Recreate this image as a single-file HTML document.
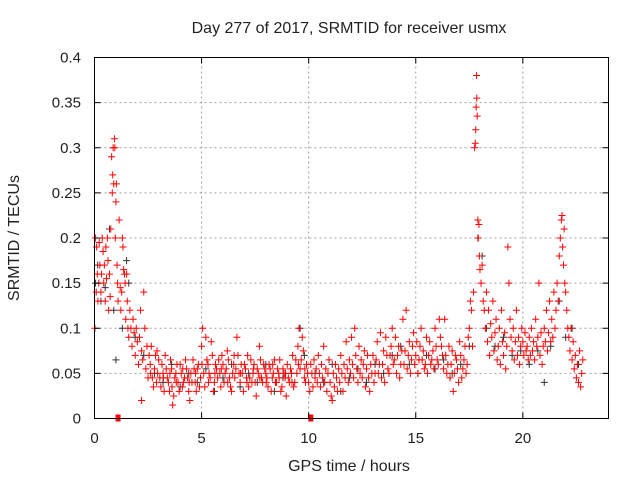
<!DOCTYPE html>
<html><head><meta charset="utf-8"><style>
body{margin:0;background:#fff}
svg{display:block;font-family:"Liberation Sans",sans-serif}
</style></head><body>
<svg id="chart" width="640" height="480" viewBox="0 0 640 480">
<rect width="640" height="480" fill="#fff"/>
<g id="grid"></g>
<g id="black"></g>
<g id="red"></g>
<rect x="94.5" y="57.5" width="514" height="361" fill="none" stroke="#000" stroke-width="1"/>
<g id="axes" font-size="15" fill="#222"></g>
<text x="349" y="33" font-size="16" text-anchor="middle" fill="#222">Day 277 of 2017, SRMTID for receiver usmx</text>
<text x="349" y="471" font-size="16" text-anchor="middle" fill="#222">GPS time / hours</text>
<text transform="translate(19,238) rotate(-90)" font-size="16" text-anchor="middle" fill="#222">SRMTID / TECUs</text>
</svg>
<script>
const xTicks=[0,5,10,15,20];
const yTicks=[0,0.05,0.1,0.15,0.2,0.25,0.3,0.35,0.4];
const yTickLabels=["0","0.05","0.1","0.15","0.2","0.25","0.3","0.35","0.4"];
const zeroHours=[1.1,10.1];
const blackPoints=[[0.05,.15],[0.15,.17],[0.3,.13],[0.5,.145],[0.7,.21],[0.9,.12],[1.0,.065],[1.3,.1],[1.5,.175],[1.6,.15],[1.9,.09],[2.3,.07],[2.8,.05],[3.2,.04],[3.6,.06],[4.0,.035],[4.4,.05],[4.8,.04],[5.2,.055],[5.6,.03],[6.0,.045],[6.4,.06],[6.8,.035],[7.2,.05],[7.6,.04],[8.0,.06],[8.4,.03],[8.8,.045],[9.2,.05],[9.6,.1],[9.8,.07],[10.3,.05],[10.7,.04],[11.1,.06],[11.5,.03],[11.9,.045],[12.3,.055],[12.7,.04],[13.1,.06],[13.5,.05],[13.9,.07],[14.3,.08],[14.7,.06],[15.1,.05],[15.5,.07],[15.9,.055],[16.3,.065],[16.7,.05],[17.1,.06],[17.5,.08],[17.9,.2],[18.1,.18],[18.3,.1],[18.7,.08],[19.1,.09],[19.5,.07],[19.9,.075],[20.3,.06],[20.7,.075],[21.0,.04],[21.3,.08],[21.7,.13],[22.0,.09],[22.3,.1],[22.6,.06]];
const redPoints=[[0.02,.1],[0.05,.2],[0.08,.14],[0.1,.19],[0.13,.16],[0.16,.13],[0.2,.15],[0.22,.195],[0.25,.17],[0.3,.14],[0.33,.16],[0.36,.2],[0.4,.185],[0.43,.15],[0.46,.17],[0.5,.13],[0.53,.19],[0.56,.155],[0.6,.2],[0.63,.175],[0.66,.12],[0.7,.16],[0.73,.135],[0.76,.21],[0.8,.29],[0.83,.25],[0.85,.27],[0.87,.3],[0.9,.26],[0.93,.31],[0.95,.3],[0.97,.2],[1.0,.24],[1.02,.26],[1.05,.17],[1.08,.15],[1.1,.13],[1.15,.22],[1.2,.145],[1.23,.12],[1.27,.14],[1.3,.2],[1.33,.19],[1.36,.165],[1.4,.16],[1.43,.15],[1.46,.11],[1.5,.16],[1.53,.13],[1.56,.1],
[1.6,.09],[1.65,.12],[1.7,.1],[1.75,.08],[1.8,.11],[1.85,.095],[1.9,.07],[1.95,.1],[2.0,.085],[2.05,.06],[2.1,.09],[2.15,.12],[2.2,.075],[2.25,.065],[2.3,.14],[2.35,.1],[2.4,.055],[2.45,.08],[2.5,.045],[2.55,.07],[2.2,.02],
[2.6,.06],[2.7,.045],[2.8,.055],[2.9,.04],[3.0,.065],[3.1,.035],[3.2,.05],[3.3,.07],[3.4,.045],[3.5,.03],[3.6,.055],[3.7,.025],[3.8,.05],[3.9,.04],[4.0,.06],[4.1,.035],[4.2,.045],[4.3,.055],[4.4,.03],[4.5,.05],[4.6,.065],[4.7,.04],[4.8,.055],[4.9,.035],[5.0,.08],[5.1,.05],[5.2,.09],[5.3,.06],[5.4,.045],[5.5,.07],[5.6,.04],[5.7,.055],[5.8,.065],[5.9,.035],[6.0,.06],[6.1,.05],[6.2,.075],[6.3,.045],[6.4,.03],[6.5,.06],[6.6,.055],[6.7,.07],[6.8,.04],[6.9,.05],[7.0,.06],[7.1,.045],[7.2,.035],[7.3,.065],[7.4,.05],[7.5,.04],[7.6,.055],[7.7,.08],[7.8,.045],[7.9,.06],[8.0,.05],[8.1,.035],[8.2,.055],[8.3,.045],[8.4,.065],[8.5,.04],[8.6,.05],[8.7,.03],[8.8,.055],[8.9,.045],[9.0,.06],[9.1,.04],[9.2,.05],[9.3,.035],[9.4,.065],[9.5,.08],[9.6,.055],[9.7,.09],[9.8,.045],[9.9,.06],
[2.65,.08],[2.75,.035],[2.85,.07],[2.95,.05],[3.05,.045],[3.15,.06],[3.25,.03],[3.35,.055],[3.45,.04],[3.55,.065],[3.65,.015],[3.75,.045],[3.85,.06],[3.95,.03],[4.05,.05],[4.15,.04],[4.25,.065],[4.35,.045],[4.45,.02],[4.55,.04],[4.65,.055],[4.75,.03],[4.85,.06],[4.95,.045],[5.05,.1],[5.15,.035],[5.25,.065],[5.35,.05],[5.45,.085],[5.55,.03],[5.65,.06],[5.75,.045],[5.85,.05],[5.95,.07],[6.05,.04],[6.15,.055],[6.25,.065],[6.35,.035],[6.45,.05],[6.55,.045],[6.65,.09],[6.75,.05],[6.85,.06],[6.95,.03],[7.05,.055],[7.15,.07],[7.25,.045],[7.35,.04],[7.45,.06],[7.55,.025],[7.65,.05],[7.75,.065],[7.85,.04],[7.95,.055],[8.05,.045],[8.15,.06],[8.25,.03],[8.35,.05],[8.45,.04],[8.55,.055],[8.65,.065],[8.75,.035],[8.85,.05],[8.95,.025],[9.05,.045],[9.15,.055],[9.25,.07],[9.35,.04],[9.45,.05],[9.55,.1],[9.65,.065],[9.75,.075],[9.85,.04],[9.95,.05],
[2.62,.05],[2.92,.075],[3.22,.045],[3.52,.05],[3.62,.035],[3.82,.04],[4.12,.055],[4.42,.04],[4.72,.05],[5.02,.06],[5.32,.04],[5.62,.05],[5.92,.055],[6.22,.04],[6.52,.07],[6.82,.05],[7.12,.04],[7.42,.055],[7.72,.045],[8.02,.04],[8.32,.06],[8.62,.045],[8.92,.05],[9.22,.04],[9.52,.06],[9.82,.055],
[10.0,.04],[10.05,.03],[10.1,.06],[10.15,.05],[10.2,.035],[10.25,.065],[10.3,.045],[10.35,.055],[10.4,.04],[10.45,.07],[10.5,.05],[10.55,.035],[10.6,.06],[10.65,.045],[10.7,.08],[10.75,.04],[10.8,.055],[10.85,.03],[10.9,.05],[10.95,.065],[11.0,.04],[11.05,.025],[11.1,.02],[11.15,.05],[11.2,.035],[11.25,.06],[11.3,.045],[11.35,.03],[11.4,.055],[11.45,.04],[11.5,.07],[11.55,.05],[11.6,.03],[11.65,.06],[11.7,.045],[11.75,.085],[11.8,.055],[11.85,.04],[11.9,.065],[11.95,.05],[12.0,.09],[12.05,.06],[12.1,.045],[12.15,.1],[12.2,.07],[12.25,.055],[12.3,.04],[12.35,.08],[12.4,.05],[12.45,.065],[12.5,.045],[12.55,.06],[12.6,.075],[12.65,.035],[12.7,.055],[12.75,.07],[12.8,.045],[12.85,.03],[12.9,.06],[12.95,.05],
[13.0,.07],[13.1,.05],[13.2,.085],[13.3,.06],[13.4,.045],[13.5,.075],[13.6,.09],[13.7,.055],[13.8,.07],[13.9,.1],[14.0,.065],[14.1,.05],[14.2,.08],[14.3,.06],[14.4,.11],[14.5,.075],[14.6,.055],[14.7,.085],[14.8,.065],[14.9,.095],[15.0,.07],[15.1,.05],[15.2,.08],[15.3,.065],[15.4,.055],[15.5,.09],[15.6,.07],[15.7,.06],[15.8,.075],[15.9,.1],[16.0,.065],[16.1,.11],[16.2,.08],[16.3,.055],[16.4,.07],[16.5,.06],[16.6,.045],[16.7,.075],[16.8,.05],[16.9,.065],[17.0,.04],[17.1,.07],[17.2,.055],[17.3,.08],[17.4,.06],
[13.05,.04],[13.15,.065],[13.25,.05],[13.35,.095],[13.45,.06],[13.55,.04],[13.65,.07],[13.75,.05],[13.85,.08],[13.95,.06],[14.05,.09],[14.15,.07],[14.25,.045],[14.35,.075],[14.45,.06],[14.55,.12],[14.65,.07],[14.75,.05],[14.85,.08],[14.95,.06],[15.05,.085],[15.15,.065],[15.25,.1],[15.35,.075],[15.45,.06],[15.55,.05],[15.65,.085],[15.75,.065],[15.85,.055],[15.95,.08],[16.05,.06],[16.15,.09],[16.25,.07],[16.35,.11],[16.45,.05],[16.55,.08],[16.65,.06],[16.75,.03],[16.85,.07],[16.95,.055],[17.05,.085],[17.15,.045],[17.25,.065],[17.35,.05],[17.45,.09],
[17.5,.1],[17.55,.13],[17.6,.12],[17.65,.08],[17.7,.14],[17.75,.3],[17.78,.305],[17.8,.32],[17.82,.345],[17.84,.38],[17.85,.355],[17.87,.335],[17.9,.22],[17.92,.2],[17.95,.215],[17.97,.18],[18.0,.165],[18.05,.15],[18.1,.17],[18.15,.13],[18.2,.12],
[18.25,.1],[18.3,.14],[18.35,.085],[18.4,.12],[18.45,.07],[18.5,.105],[18.55,.09],[18.6,.13],[18.65,.075],[18.7,.095],[18.75,.11],[18.8,.065],[18.85,.08],[18.9,.1],[18.95,.06],[19.0,.12],[19.05,.085],[19.1,.07],[19.15,.095],[19.2,.055],[19.25,.08],[19.3,.19],[19.35,.15],[19.4,.11],[19.45,.09],[19.5,.075],[19.55,.1],[19.6,.065],[19.65,.085],[19.7,.12],[19.75,.07],[19.8,.09],[19.85,.06],[19.9,.08],[19.95,.1],
[20.0,.085],[20.05,.07],[20.1,.095],[20.15,.075],[20.2,.08],[20.25,.065],[20.3,.09],[20.35,.07],[20.4,.1],[20.45,.075],[20.5,.085],[20.55,.065],[20.6,.11],[20.65,.08],[20.7,.09],[20.75,.15],[20.8,.07],[20.85,.095],[20.9,.06],[20.95,.08],[21.0,.1],[21.05,.085],[21.1,.12],[21.15,.075],[21.2,.095],[21.25,.13],[21.3,.085],[21.35,.11],[21.4,.09],[21.45,.14],[21.5,.1],[21.55,.12],
[21.6,.15],[21.65,.13],[21.7,.18],[21.75,.2],[21.8,.22],[21.83,.225],[21.86,.19],[21.9,.17],[21.93,.21],[21.96,.15],[22.0,.14],[22.05,.12],[22.1,.1],
[22.15,.09],[22.2,.075],[22.25,.1],[22.3,.065],[22.35,.085],[22.4,.055],[22.45,.07],[22.5,.045],[22.55,.06],[22.6,.04],[22.65,.075],[22.7,.035],[22.75,.05],[22.8,.065]];

const X0=94.5,X1=608.5,Y0=418.5,Y1=57.5;
function sx(h){return X0+(h/24)*(X1-X0);}
function sy(v){return Y0-(v/0.4)*(Y0-Y1);}
const NS="http://www.w3.org/2000/svg";
function mk(tag,attrs,parent){const e=document.createElementNS(NS,tag);for(const k in attrs)e.setAttribute(k,attrs[k]);parent.appendChild(e);return e;}
const grid=document.getElementById('grid'),axes=document.getElementById('axes');
xTicks.forEach(t=>{
  const x=sx(t);
  if(t>0){const g=mk('line',{x1:x,x2:x,y1:Y0,y2:Y1,stroke:'#a0a0a0','stroke-dasharray':'2,3'},grid);
  
  }
  const tk=mk('path',{d:`M${x},${Y0}v-6M${x},${Y1}v6`,stroke:'#000'},axes);
  
  
  const l=mk('text',{x:x,y:443,'text-anchor':'middle'},axes);l.textContent=t;
  
  
});
yTicks.forEach((t,i)=>{
  const y=sy(t);
  if(t>0&&t<0.4){const g=mk('line',{x1:X0,x2:X1,y1:y,y2:y,stroke:'#a0a0a0','stroke-dasharray':'2,3'},grid);
  
  }
  const tk=mk('path',{d:`M${X0},${y}h6M${X1},${y}h-6`,stroke:'#000'},axes);
  
  
  const l=mk('text',{x:81,y:y+5,'text-anchor':'end'},axes);l.textContent=yTickLabels[i];
  
  
});
function plus(g,p,col){
  const x=sx(p[0]),y=sy(p[1]);
  const e=mk('path',{d:`M${x-3.5},${y}h7M${x},${y-3.5}v7`,stroke:col,'stroke-width':1,fill:'none'},g);
  
  
}
const bg=document.getElementById('black'),rg=document.getElementById('red');
blackPoints.forEach(p=>plus(bg,p,'#333'));
redPoints.forEach(p=>plus(rg,p,'#f00'));
zeroHours.forEach(h=>{
  const r=mk('rect',{x:sx(h)-2.5,y:Y0-4,width:5,height:7,fill:'#f00'},rg);
  
  
});
</script>
</body></html>
